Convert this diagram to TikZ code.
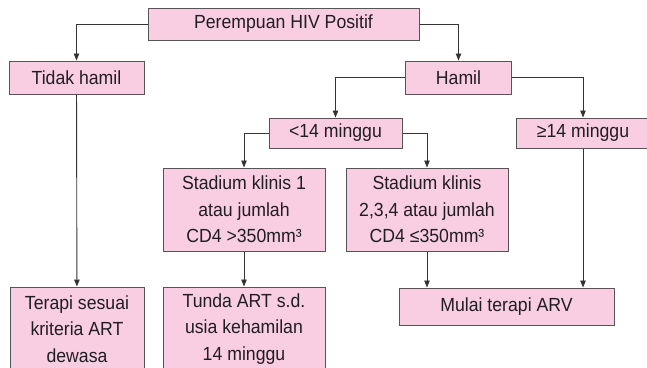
\documentclass[tikz,border=0pt]{standalone}
\usepackage{fontspec}
\setmainfont{Liberation Sans}[FakeStretch=0.93]
\usetikzlibrary{arrows.meta}

\definecolor{boxpink}{RGB}{250,206,226}
\definecolor{boxline}{RGB}{85,85,85}
\definecolor{txt}{RGB}{30,30,35}

\tikzset{
  box/.style={shape=rectangle, draw=boxline, line width=1pt, fill=boxpink,
    text=txt, align=center, inner sep=0pt,
    font=\fontsize{19}{26.5}\selectfont},
  flow/.style={-{Triangle[length=7pt,width=5.5pt]}, line width=0.9pt, draw=black!80}
}

\begin{document}
\begin{tikzpicture}[x=1pt,y=-1pt]
\clip (0,0) rectangle (647,367);
\fill[white] (0,0) rectangle (647,367);

\node (hiv) at (283.5,24) [box, minimum width=271pt, minimum height=32pt] {Perempuan HIV Positif};
\node (tidak) at (76.5,77.5) [box, minimum width=135pt, minimum height=33pt] {Tidak hamil};
\node (hamil) at (458.5,77.5) [box, minimum width=106pt, minimum height=33pt] {Hamil};
\node (kurang) at (335.5,133) [box, minimum width=133pt, minimum height=30pt] {<14 minggu};
\node (lebih) at (583,133) [box, minimum width=134pt, minimum height=30pt] {≥14 minggu};
\node (klinis1) at (244,209.5) [box, minimum width=162pt, minimum height=83pt] {Stadium klinis 1\\atau jumlah\\CD4 >350mm³};
\node (klinis2) at (427,209.5) [box, minimum width=162pt, minimum height=83pt] {Stadium klinis\\2,3,4 atau jumlah\\CD4 ≤350mm³};
\node (terapi) at (77,329) [box, minimum width=134pt, minimum height=84pt] {Terapi sesuai\\kriteria ART\\dewasa};
\node (tunda) at (244,329) [box, minimum width=162pt, minimum height=84pt] {Tunda ART s.d.\\usia kehamilan\\14 minggu};
\node (mulai) at (506.5,306.5) [box, minimum width=215pt, minimum height=37pt] {Mulai terapi ARV};

\draw [flow] (hiv.west) -| (tidak);
\draw [flow] (hiv.east) -| (hamil);
\draw [flow] (hamil.west) -| (kurang);
\draw [flow] (hamil.east) -| (lebih);
\draw [flow] (kurang.west) -| (klinis1);
\draw [flow] (kurang.east) -| (klinis2);
\draw [flow] (tidak) -- (terapi);
\draw [flow] (klinis1) -- (tunda);
\draw [flow] (klinis2.south) -- (klinis2.south |- mulai.north);
\draw [flow] (lebih.south) -- (lebih.south |- mulai.north);
\end{tikzpicture}
\end{document}
